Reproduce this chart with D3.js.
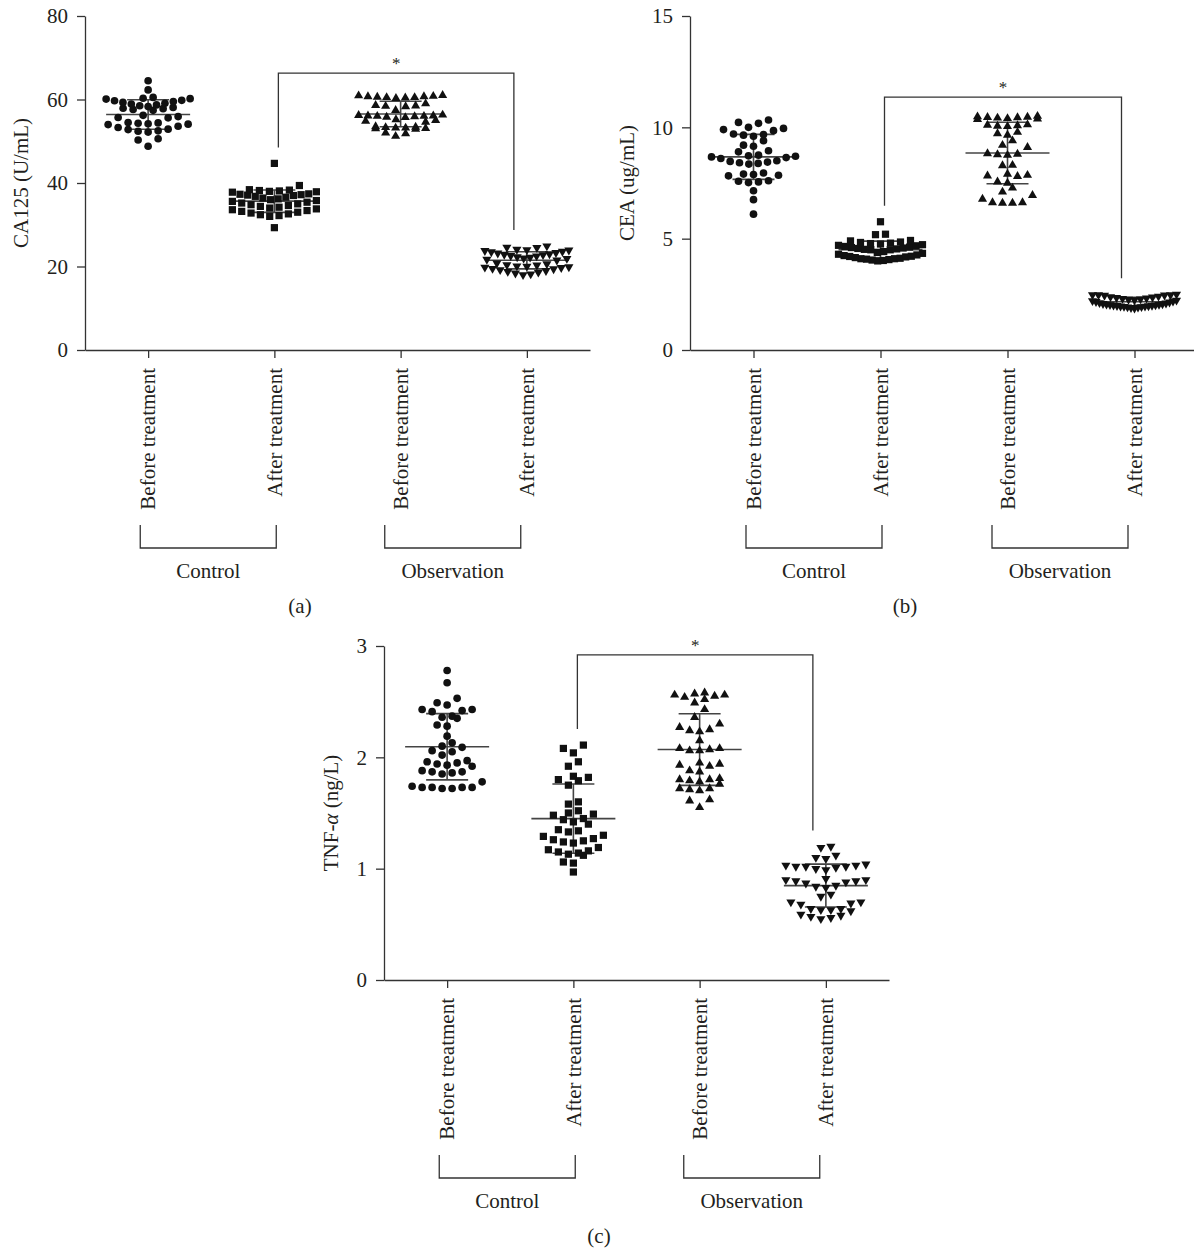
<!DOCTYPE html>
<html lang="en">
<head>
<meta charset="UTF-8" />
<title>CA125, CEA and TNF-α before and after treatment</title>
<script src="https://d3js.org/d3.v7.min.js"></script>
<style>
    body { margin: 0; background: #fff; }
    svg { display: block; }
    text { font-family: "Liberation Serif", "DejaVu Serif", serif; fill: #231f20; }
</style>
</head>
<body>
<script>
    // Categories and groups
    var categories = ["Before treatment", "After treatment", "Before treatment", "After treatment"];
    var groupNames = ["Control", "Observation"];

    // Tick values
    var ca125Ticks = [0, 20, 40, 60, 80];
    var ceaTicks = [0, 5, 10, 15];
    var tnfTicks = [0, 1, 2, 3];

    // (a) CA125 (U/mL)
    var ca125CtrlBefore = [48.8, 50.3, 50.6, 52.2, 52.5, 52.8, 52.4, 52.9, 53.3, 53.6, 54.0, 54.2, 54.4, 54.3,
        54.1, 54.5, 55.6, 55.9, 55.7, 56.2, 57.4, 57.6, 57.8, 57.9, 58.1, 58.3, 58.5, 58.7, 58.9, 59.1, 59.3,
        59.5, 59.7, 59.8, 60.1, 60.2, 60.3, 60.5, 62.3, 64.5];
    var ca125CtrlAfter = [44.7, 39.4, 37.8, 37.9, 38.0, 38.1, 38.2, 38.3, 38.4, 35.2, 35.4, 35.6, 35.8, 36.0,
        36.2, 36.4, 36.6, 36.8, 37.0, 37.1, 37.2, 37.3, 37.4, 32.2, 32.4, 32.6, 32.8, 33.0, 33.2, 33.4, 33.6,
        33.8, 34.0, 34.2, 34.4, 34.6, 34.8, 35.0, 32.0, 29.3];
    var ca125ObsBefore = [60.3, 60.4, 60.5, 60.6, 60.7, 60.8, 60.9, 61.0, 60.5, 60.7, 58.3, 58.4, 58.5, 58.6,
        59.0, 57.4, 55.8, 55.9, 56.0, 56.1, 56.2, 56.3, 55.7, 56.0, 56.1, 54.8, 55.0, 55.2, 53.0, 53.1, 53.2,
        53.3, 53.4, 53.5, 52.9, 53.2, 51.8, 52.0, 51.2, 54.6];
    var ca125ObsAfter = [24.9, 24.6, 24.5, 21.5, 21.7, 21.9, 22.0, 22.2, 22.3, 22.5, 22.6, 22.8, 22.9, 23.0,
        23.2, 23.3, 23.5, 23.6, 23.8, 23.9, 24.0, 24.1, 18.0, 18.2, 18.4, 18.6, 18.8, 19.0, 19.2, 19.4, 19.5,
        19.7, 19.8, 19.9, 20.0, 20.1, 20.3, 20.4, 20.6, 20.8];

    // (b) CEA (ug/mL)
    var ceaCtrlBefore = [10.33, 10.22, 10.18, 10.0, 9.95, 9.9, 9.85, 9.7, 9.68, 9.65, 9.6, 9.4, 9.2, 9.15,
        8.95, 8.9, 8.75, 8.72, 8.7, 8.67, 8.64, 8.6, 8.5, 8.47, 8.44, 8.41, 8.38, 8.35, 7.95, 7.9, 7.88, 7.85,
        7.82, 7.6, 7.58, 7.55, 7.52, 7.15, 6.75, 6.1];
    var ceaCtrlAfter = [5.76, 5.2, 5.18, 4.92, 4.9, 4.85, 4.83, 4.8, 4.78, 4.76, 4.73, 4.7, 4.68, 4.65, 4.62,
        4.6, 4.58, 4.56, 4.54, 4.52, 4.5, 4.5, 4.42, 4.38, 4.34, 4.3, 4.27, 4.24, 4.21, 4.18, 4.15, 4.12, 4.1,
        4.08, 4.06, 4.04, 4.02, 4.0, 4.1, 4.2];
    var ceaObsBefore = [10.5, 10.48, 10.46, 10.44, 10.42, 10.4, 10.38, 10.36, 10.45, 10.12, 10.1, 10.08,
        10.06, 10.04, 9.78, 9.72, 9.65, 9.4, 9.2, 9.1, 8.82, 8.8, 8.78, 8.75, 8.3, 8.28, 7.9, 7.85, 7.82, 7.8,
        7.55, 7.5, 7.28, 7.1, 6.95, 6.78, 6.62, 6.6, 6.6, 6.62];
    var ceaObsAfter = [2.45, 2.47, 2.48, 2.46, 2.5, 2.47, 2.15, 2.17, 2.19, 2.21, 2.23, 2.25, 2.27, 2.29,
        2.31, 2.33, 2.35, 2.37, 2.39, 2.41, 1.88, 1.9, 1.92, 1.93, 1.94, 1.95, 1.96, 1.97, 1.98, 1.99, 2.0,
        2.01, 2.02, 2.03, 2.04, 2.05, 2.07, 2.08, 2.1, 2.12];

    // (c) TNF-α (ng/L)
    var tnfCtrlBefore = [2.78, 2.67, 2.53, 2.49, 2.47, 2.43, 2.43, 2.42, 2.41, 2.37, 2.36, 2.35, 2.29, 2.28,
        2.19, 2.13, 2.1, 2.09, 2.06, 2.05, 2.02, 1.97, 1.95, 1.94, 1.96, 1.93, 1.92, 1.88, 1.87, 1.86, 1.87,
        1.85, 1.78, 1.73, 1.73, 1.72, 1.73, 1.74, 1.73, 1.72];
    var tnfCtrlAfter = [2.11, 2.08, 2.04, 1.96, 1.92, 1.83, 1.8, 1.79, 1.82, 1.75, 1.6, 1.58, 1.52, 1.49,
        1.45, 1.42, 1.44, 1.48, 1.5, 1.35, 1.33, 1.34, 1.3, 1.27, 1.25, 1.23, 1.24, 1.26, 1.29, 1.17, 1.15,
        1.13, 1.12, 1.14, 1.16, 1.19, 1.06, 1.05, 0.97, 1.4];
    var tnfObsBefore = [2.58, 2.54, 2.56, 2.52, 2.55, 2.56, 2.57, 2.49, 2.43, 2.36, 2.3, 2.27, 2.25, 2.23,
        2.24, 2.15, 2.08, 2.06, 2.07, 2.06, 2.08, 1.95, 1.93, 1.94, 1.92, 1.88, 1.87, 1.81, 1.8, 1.79, 1.8,
        1.78, 1.76, 1.72, 1.71, 1.7, 1.72, 1.62, 1.61, 1.55];
    var tnfObsAfter = [1.2, 1.19, 1.12, 1.1, 1.09, 1.04, 1.03, 1.02, 1.01, 1.0, 1.02, 1.03, 1.02, 0.99,
        0.9, 0.89, 0.88, 0.87, 0.89, 0.9, 0.91, 0.85, 0.84, 0.83, 0.77, 0.75, 0.7, 0.69, 0.68, 0.7, 0.64,
        0.63, 0.62, 0.63, 0.64, 0.59, 0.58, 0.57, 0.56, 0.55];

    var w = 1194;
    var h = 1254;

    var svg = d3.select("body")
        .append("svg")
        .attr("width", w)
        .attr("height", h);

    var ink = "#231f20";
    var fontSize = 21;

    // marker shapes for the four columns
    var shapes = [
        { type: d3.symbolCircle, size: 46, rot: 0 },
        { type: d3.symbolSquare, size: 52, rot: 0 },
        { type: d3.symbolTriangle, size: 36, rot: 0 },
        { type: d3.symbolTriangle, size: 36, rot: 180 }
    ];

    // GraphPad-like scatter: rows of close values spread sideways, lowest in the middle
    function swarm(values, yScale, cx) {
        var rowH = 8, gap = 10, maxW = 84;
        var pts = values.map(function (v) { return { v: v, py: yScale(v) }; })
            .sort(function (a, b) { return a.v - b.v; });
        var rows = [], cur = null;
        pts.forEach(function (p) {
            if (!cur || cur.base - p.py >= rowH) {
                cur = { base: p.py, pts: [] };
                rows.push(cur);
            }
            cur.pts.push(p);
        });
        rows.forEach(function (r) {
            var n = r.pts.length;
            var step = n > 1 ? Math.min(gap, maxW / (n - 1)) : 0;
            var offs = d3.range(n).map(function (k) { return (k - (n - 1) / 2) * step; })
                .sort(function (a, b) { return Math.abs(a) - Math.abs(b) || a - b; });
            r.pts.forEach(function (p, i) { p.px = cx + offs[i]; });
        });
        return pts;
    }

    function drawPanel(cfg) {
        var g = svg.append("g");

        var yScale = d3.scaleLinear()
            .domain([cfg.ticks[0], cfg.ticks[cfg.ticks.length - 1]])
            .range([cfg.bottom, cfg.top]);

        var xScale = d3.scalePoint()
            .domain(d3.range(categories.length))
            .range([cfg.left, cfg.right])
            .padding(0.5);

        // Y axis
        var yAxis = g.append("g")
            .attr("transform", "translate(" + cfg.left + ",0)")
            .call(d3.axisLeft(yScale).tickValues(cfg.ticks).tickFormat(d3.format("d"))
                .tickSize(8).tickSizeOuter(0).tickPadding(9));
        yAxis.selectAll("text")
            .style("font-family", "'Liberation Serif', serif")
            .style("font-size", fontSize + "px")
            .attr("fill", ink);

        // X axis
        g.append("g")
            .attr("transform", "translate(0," + cfg.bottom + ")")
            .call(d3.axisBottom(xScale).tickSize(8).tickSizeOuter(0).tickFormat(""));

        g.selectAll(".domain, .tick line")
            .attr("stroke", "#333")
            .attr("stroke-width", 1.3);

        // Y axis title
        var title = g.append("text")
            .attr("text-anchor", "middle")
            .attr("transform", "translate(" + (cfg.left - cfg.titleOff) + "," + ((cfg.top + cfg.bottom) / 2) + ") rotate(-90)")
            .attr("dy", "0.35em")
            .style("font-size", fontSize + "px");
        cfg.title.forEach(function (part) {
            title.append("tspan").attr("font-style", part[1] ? "italic" : null).text(part[0]);
        });

        // Category labels, rotated
        g.selectAll(".cat")
            .data(categories)
            .enter()
            .append("text")
            .attr("text-anchor", "end")
            .attr("dy", "0.35em")
            .attr("transform", function (d, i) {
                return "translate(" + xScale(i) + "," + (cfg.bottom + 18) + ") rotate(-90)";
            })
            .style("font-size", fontSize + "px")
            .text(function (d) { return d; });

        // Group brackets
        var bTop = cfg.bottom + 175, bBot = cfg.bottom + 198;
        var shift = [-3, -11];
        groupNames.forEach(function (name, gi) {
            var mid = (xScale(gi * 2) + xScale(gi * 2 + 1)) / 2 + shift[gi];
            var x1 = mid - 68, x2 = mid + 68;
            g.append("path")
                .attr("d", "M" + x1 + "," + bTop + "V" + bBot + "H" + x2 + "V" + bTop)
                .attr("fill", "none")
                .attr("stroke", "#333")
                .attr("stroke-width", 1.3);
            g.append("text")
                .attr("x", mid)
                .attr("y", cfg.bottom + 228)
                .attr("text-anchor", "middle")
                .style("font-size", fontSize + "px")
                .text(name);
        });

        // Panel letter
        g.append("text")
            .attr("x", cfg.left + 215)
            .attr("y", cfg.bottom + 263)
            .attr("text-anchor", "middle")
            .style("font-size", fontSize + "px")
            .text(cfg.letter);

        // Significance bracket between control-after and observation-after
        var lx = xScale(1) + 4, rx = xScale(3) - 13;
        var ly = yScale(d3.max(cfg.data[1])) - 16;
        var ry = yScale(d3.max(cfg.data[3])) - 16;
        var sy = yScale(cfg.sigTop);
        g.append("path")
            .attr("d", "M" + lx + "," + ly + "V" + sy + "H" + rx + "V" + ry)
            .attr("fill", "none")
            .attr("stroke", "#333")
            .attr("stroke-width", 1.3);
        g.append("text")
            .attr("x", (lx + rx) / 2)
            .attr("y", sy - 4)
            .attr("text-anchor", "middle")
            .style("font-size", "17px")
            .text("*");

        // Mean ± SD bars and points
        cfg.data.forEach(function (vals, i) {
            var cx = xScale(i);
            var m = d3.mean(vals), sd = d3.deviation(vals);
            var bars = g.append("g").attr("stroke", "#444").attr("stroke-width", 1.6);
            bars.append("line")
                .attr("x1", cx - 42).attr("x2", cx + 42)
                .attr("y1", yScale(m)).attr("y2", yScale(m));
            bars.append("line")
                .attr("x1", cx).attr("x2", cx)
                .attr("y1", yScale(m - sd)).attr("y2", yScale(m + sd));
            [m - sd, m + sd].forEach(function (v) {
                bars.append("line")
                    .attr("x1", cx - 21).attr("x2", cx + 21)
                    .attr("y1", yScale(v)).attr("y2", yScale(v));
            });

            var sh = shapes[i];
            g.append("g")
                .selectAll("path")
                .data(swarm(vals, yScale, cx))
                .enter()
                .append("path")
                .attr("d", d3.symbol().type(sh.type).size(sh.size))
                .attr("transform", function (d) {
                    return "translate(" + d.px + "," + d.py + ") rotate(" + sh.rot + ")";
                })
                .attr("fill", "#111");
        });
    }

    drawPanel({
        left: 85, right: 590, top: 16, bottom: 350,
        ticks: ca125Ticks, sigTop: 66.3, letter: "(a)", titleOff: 64,
        title: [["CA125 (U/mL)", false]],
        data: [ca125CtrlBefore, ca125CtrlAfter, ca125ObsBefore, ca125ObsAfter]
    });

    drawPanel({
        left: 690, right: 1198, top: 16, bottom: 350,
        ticks: ceaTicks, sigTop: 11.36, letter: "(b)", titleOff: 63,
        title: [["CEA (ug/mL)", false]],
        data: [ceaCtrlBefore, ceaCtrlAfter, ceaObsBefore, ceaObsAfter]
    });

    drawPanel({
        left: 384, right: 889, top: 646, bottom: 980,
        ticks: tnfTicks, sigTop: 2.92, letter: "(c)", titleOff: 53,
        title: [["TNF-", false], ["α", true], [" (ng/L)", false]],
        data: [tnfCtrlBefore, tnfCtrlAfter, tnfObsBefore, tnfObsAfter]
    });
</script>
</body>
</html>
